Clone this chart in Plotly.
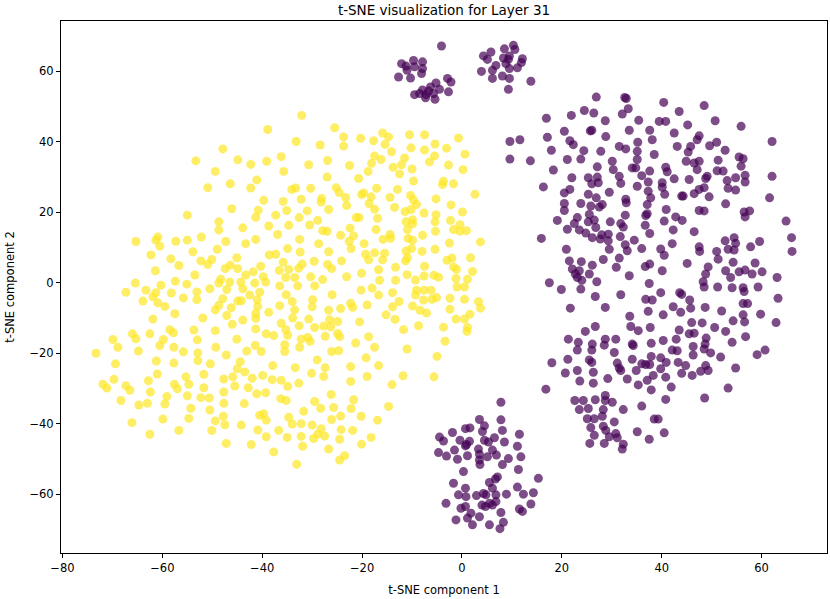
import plotly.graph_objects as go

# t-SNE coordinates, grouped by region
yellow_left_top = [
    (-38.9, 43.5), (-47.9, 38.0), (-53.3, 34.6), (-44.9, 34.9), (-42.3, 33.6), (-39.1, 34.5),
    (-49.4, 31.6), (-41.1, 29.2), (-46.4, 28.1), (-50.9, 27.0), (-42.3, 26.9), (-39.7, 23.4),
    (-46.1, 21.0), (-40.8, 20.6), (-55.0, 19.2), (-41.3, 18.6), (-48.7, 17.3), (-48.7, 15.0),
    (-43.9, 15.6), (-38.7, 16.1), (-65.3, 11.7), (-60.9, 13.0), (-61.3, 12.1), (-60.5, 10.4),
    (-57.3, 11.8), (-55.0, 12.1), (-52.2, 13.0), (-47.3, 11.7), (-43.3, 11.1), (-41.3, 12.3),
    (-49.0, 9.5), (-53.9, 8.8), (-62.3, 7.9), (-58.3, 6.8), (-56.7, 4.9), (-52.3, 6.2),
    (-50.1, 6.6), (-50.9, 5.2), (-45.1, 7.1), (-46.4, 5.0), (-40.3, 4.7), (-38.6, 7.9),
    (-61.4, 3.4), (-47.4, 4.0), (-44.9, 4.0),
]

yellow_left_bottom = [
    (-53.5, 2.2), (-43.3, 2.2), (-41.8, 3.1), (-39.8, 1.7), (-65.4, -0.1), (-67.3, -2.7),
    (-63.9, -5.2), (-63.3, -2.1), (-60.3, -0.7), (-61.3, -2.8), (-61.9, -4.0), (-60.9, -5.7),
    (-59.5, -6.7), (-58.2, -2.9), (-57.4, 0.4), (-55.1, -0.4), (-55.8, -4.3), (-53.1, -2.6),
    (-53.1, -4.8), (-50.5, -1.7), (-48.7, -0.1), (-48.3, 1.0), (-46.5, 0.2), (-47.1, -1.9),
    (-47.9, -4.5), (-48.7, -6.4), (-49.4, -7.7), (-46.2, -7.1), (-44.3, 0.2), (-43.9, -1.7),
    (-42.5, -3.5), (-44.9, -5.2), (-44.2, -5.1), (-41.5, -0.1), (-40.5, -2.7), (-39.3, 0.2),
    (-41.0, -4.8), (-40.9, -6.7), (-41.3, -8.7), (-41.3, -10.1), (-38.7, -8.4), (-47.1, -9.3),
    (-43.9, -10.6), (-46.0, -11.8), (-41.3, -13.1), (-39.2, -14.5), (-45.1, -16.0), (-43.1, -19.4),
    (-41.4, -17.8), (-40.2, -19.5), (-47.2, -20.5), (-49.3, -18.3), (-49.4, -13.6), (-51.9, -10.0),
    (-53.7, -13.4), (-53.0, -16.2), (-52.9, -19.9), (-52.9, -22.1), (-50.4, -23.0), (-51.7, -26.0),
    (-55.8, -19.6), (-57.7, -18.3), (-57.8, -14.2), (-58.5, -13.3), (-59.8, -16.1), (-60.5, -17.8),
    (-57.5, -8.8), (-61.9, -10.3), (-62.5, -14.5), (-66.0, -14.5), (-65.3, -15.9), (-64.8, -19.4),
    (-69.9, -16.1), (-68.9, -18.3), (-73.3, -20.0), (-69.4, -23.0), (-61.2, -22.2), (-57.7, -22.8),
    (-61.0, -25.9), (-62.8, -27.8), (-69.7, -27.4), (-71.9, -28.8), (-71.1, -29.9), (-67.3, -29.2),
    (-66.5, -30.5), (-68.3, -33.4), (-62.4, -31.0), (-64.7, -34.7), (-63.0, -34.2), (-66.1, -39.7),
    (-62.5, -43.0), (-59.9, -38.7), (-56.7, -41.9), (-54.7, -38.5), (-54.3, -35.6), (-55.0, -32.1),
    (-59.1, -32.3), (-59.5, -34.4), (-57.6, -28.8), (-57.0, -30.1), (-55.3, -26.7), (-54.7, -28.8),
    (-51.7, -29.8), (-52.3, -32.6), (-50.6, -32.7), (-50.5, -36.1), (-49.4, -39.2), (-50.1, -41.9),
    (-47.7, -31.0), (-47.7, -34.2), (-47.8, -37.9), (-47.5, -40.3), (-47.2, -45.6), (-47.7, -27.3),
    (-45.5, -29.3), (-45.9, -26.7), (-44.4, -22.4), (-45.0, -24.4), (-43.5, -25.3), (-42.0, -27.1),
    (-42.8, -29.8), (-41.1, -31.5), (-39.9, -26.3), (-39.3, -31.2), (-43.6, -34.3), (-40.5, -37.6),
    (-39.7, -37.2), (-44.2, -40.4), (-40.9, -41.8), (-42.2, -45.9), (-39.2, -43.7), (-39.2, -39.0),
]

yellow_right_top = [
    (-32.1, 47.5), (-25.5, 44.0), (-33.2, 40.1), (-28.4, 39.1), (-23.7, 41.4), (-23.7, 38.8),
    (-20.3, 41.0), (-17.7, 40.3), (-15.9, 42.5), (-14.7, 41.4), (-15.4, 39.3), (-14.1, 37.2),
    (-10.5, 42.0), (-7.5, 42.0), (-10.2, 38.3), (-7.5, 37.7), (-5.4, 39.4), (-5.5, 36.0),
    (-3.1, 38.2), (-0.7, 41.1), (0.6, 36.5), (-36.2, 35.8), (-30.7, 33.5), (-26.9, 34.7),
    (-35.7, 31.6), (-27.0, 30.0), (-22.5, 33.3), (-20.7, 29.6), (-18.8, 31.6), (-18.1, 33.9),
    (-17.5, 36.0), (-16.2, 35.0), (-13.8, 32.8), (-12.5, 30.9), (-12.1, 33.5), (-11.5, 35.4),
    (-10.0, 32.3), (-9.7, 28.9), (-6.5, 34.3), (-2.7, 33.4), (0.2, 32.1), (-3.7, 28.8),
    (-3.9, 27.9), (-1.7, 28.1), (2.6, 25.1), (-2.2, 22.1), (-5.2, 23.8), (0.1, 20.1),
    (-2.3, 17.7), (-0.4, 16.5), (-1.7, 15.1), (-0.4, 14.6), (0.9, 14.8), (3.7, 11.6),
    (1.7, 7.1), (-2.5, 11.3), (-5.4, 9.5), (-3.0, 6.4), (-2.0, 7.0), (-1.7, 4.5),
    (-1.1, 3.8), (2.1, 3.2), (-1.2, 1.2), (1.1, 1.0), (-5.2, 19.3), (-5.4, 17.3),
    (-5.3, 14.6), (-7.6, 19.8), (-7.9, 13.5), (-8.0, 8.9), (-7.5, 4.7), (-5.6, 2.1),
    (-4.7, 1.6), (-7.6, 1.9), (-9.3, 0.8), (-10.3, 24.8), (-9.7, 23.5), (-9.1, 22.2),
    (-11.4, 20.2), (-10.2, 20.8), (-9.9, 17.9), (-11.2, 17.3), (-9.9, 16.7), (-10.9, 15.1),
    (-10.8, 12.6), (-9.9, 12.1), (-10.1, 9.7), (-11.2, 9.0), (-10.9, 7.1), (-11.3, 6.2),
    (-11.0, 2.3), (-12.9, 26.5), (-14.4, 24.2), (-13.5, 21.4), (-17.1, 26.8), (-18.2, 24.4),
    (-19.7, 25.5), (-20.1, 25.0), (-18.6, 22.5), (-17.5, 20.9), (-16.9, 18.3), (-20.6, 18.5),
    (-21.2, 18.5), (-23.1, 21.9), (-23.3, 24.2), (-24.6, 25.6), (-25.2, 27.0), (-26.7, 20.8),
    (-28.1, 23.9), (-28.2, 22.9), (-30.3, 26.8), (-33.3, 26.9), (-34.1, 26.5), (-32.2, 23.7),
    (-35.8, 23.1), (-35.1, 20.5), (-37.3, 19.2), (-31.0, 20.4), (-32.6, 18.5), (-34.7, 16.3),
    (-36.9, 13.7), (-30.5, 16.4), (-28.9, 17.7), (-27.9, 14.8), (-27.0, 14.6), (-32.5, 12.3),
    (-28.7, 11.1), (-34.9, 9.7), (-32.4, 8.7), (-26.7, 8.8), (-29.6, 6.1), (-35.8, 5.8),
    (-32.0, 5.3), (-36.6, 3.5), (-34.7, 3.8), (-32.7, 4.1), (-35.3, 1.5), (-33.5, 1.5),
    (-30.3, 1.7), (-27.9, 0.9), (-26.9, 5.2), (-26.1, 4.0), (-24.1, 6.2), (-23.1, 1.7),
    (-24.3, 13.5), (-22.4, 15.5), (-21.7, 13.3), (-22.6, 11.8), (-22.2, 9.7), (-19.6, 11.1),
    (-17.2, 15.1), (-19.3, 8.1), (-18.7, 6.5), (-17.5, 8.5), (-15.5, 8.4), (-15.9, 6.5),
    (-15.8, 12.3), (-14.4, 13.7), (-14.3, 12.6), (-13.3, 4.4), (-16.7, 3.7), (-16.5, 0.7),
    (-20.1, 2.7), (-13.3, 0.7), (-37.3, 8.1),
]

yellow_right_bottom = [
    (-36.5, -0.9), (-32.9, -0.9), (-29.5, -0.9), (-20.2, -2.1), (-18.0, -1.5), (-16.7, -3.5),
    (-19.0, -6.3), (-22.3, -5.8), (-21.9, -7.0), (-24.3, -7.3), (-26.0, -3.4), (-26.7, -7.8),
    (-29.9, -4.8), (-30.0, -6.8), (-30.7, -10.3), (-35.2, -3.4), (-34.0, -5.3), (-36.5, -6.5),
    (-33.5, -7.7), (-33.9, -10.0), (-36.2, -11.5), (-35.3, -13.3), (-37.7, -15.0), (-34.9, -14.9),
    (-32.6, -12.2), (-29.5, -12.7), (-27.7, -12.3), (-26.5, -10.5), (-26.3, -12.5), (-24.9, -11.0),
    (-24.9, -14.4), (-24.5, -15.3), (-27.4, -15.2), (-30.9, -15.5), (-32.2, -16.0), (-30.4, -16.6),
    (-32.5, -18.3), (-35.5, -17.6), (-35.5, -19.5), (-37.9, -23.5), (-33.4, -24.1), (-30.1, -25.7),
    (-29.0, -21.9), (-27.4, -24.1), (-27.7, -26.6), (-26.1, -19.5), (-24.7, -19.3), (-22.3, -23.8),
    (-21.3, -17.1), (-20.5, -11.1), (-18.7, -15.3), (-17.5, -18.3), (-19.2, -21.3), (-16.7, -23.5),
    (-19.0, -26.6), (-22.3, -28.0), (-38.0, -27.5), (-36.2, -27.7), (-34.9, -29.4), (-32.7, -28.5),
    (-36.3, -32.9), (-35.2, -33.4), (-29.5, -33.7), (-28.3, -35.6), (-31.7, -36.5), (-34.7, -38.2),
    (-34.0, -40.1), (-32.2, -40.0), (-36.7, -41.9), (-35.0, -43.9), (-32.2, -43.6), (-30.0, -40.4),
    (-28.2, -41.4), (-28.9, -43.0), (-29.7, -44.2), (-27.5, -43.5), (-31.9, -46.4), (-37.7, -48.0),
    (-33.1, -51.5), (-26.7, -47.2), (-24.5, -44.4), (-24.2, -41.7), (-24.3, -37.8), (-26.1, -38.8),
    (-26.2, -31.7), (-25.7, -35.4), (-22.2, -35.7), (-21.7, -33.2), (-21.9, -41.9), (-20.2, -37.9),
    (-20.1, -45.8), (-18.2, -43.9), (-16.9, -39.0), (-14.7, -35.1), (-24.5, -50.3), (-23.5, -49.1),
    (-14.0, -28.9), (-11.8, -26.4), (-11.0, -18.8), (-11.7, -13.3), (-8.7, -12.2), (-5.6, -26.7),
    (-5.0, -20.9), (-3.4, -16.6), (-3.7, -12.6), (-15.2, -9.1), (-13.4, -10.4), (-13.9, -6.8),
    (-12.6, -5.3), (-13.9, -2.8), (-9.9, -6.6), (-9.1, -2.1), (-9.3, -3.5), (-7.7, -4.9),
    (-8.4, -7.8), (-7.1, -8.6), (-6.0, -4.7), (-5.1, -4.2), (-6.2, -2.1), (-7.6, -2.1),
    (-2.4, -4.4), (-2.4, -7.5), (0.5, -4.7), (-1.0, -1.2), (0.5, -1.2), (-1.2, -10.3),
    (0.5, -10.3), (1.6, -8.9), (1.1, -12.7), (1.0, -13.8), (3.3, -5.4), (3.7, -7.2),
]

purple_right_top = [
    (26.9, 52.7), (32.6, 52.6), (32.9, 52.3), (16.9, 46.7), (21.9, 47.5), (24.5, 48.9),
    (26.4, 48.2), (32.1, 47.9), (33.3, 49.4), (28.7, 46.0), (35.4, 46.1), (20.5, 43.0),
    (25.7, 43.1), (26.0, 43.3), (28.8, 41.5), (33.5, 43.3), (37.6, 43.3), (17.1, 41.3),
    (11.6, 40.6), (9.6, 40.1), (21.6, 40.3), (22.3, 39.2), (24.4, 37.5), (27.8, 37.3),
    (31.5, 38.7), (32.8, 38.0), (35.2, 39.9), (35.1, 37.3), (38.1, 40.6), (38.5, 36.4),
    (17.9, 37.6), (9.6, 35.1), (13.7, 34.6), (21.1, 35.0), (23.8, 35.1), (30.1, 34.5),
    (35.1, 35.0), (18.3, 32.0), (27.1, 32.9), (30.3, 32.1), (34.1, 32.6), (34.8, 32.6),
    (37.6, 31.7), (36.0, 30.4), (31.5, 30.2), (31.8, 28.2), (35.1, 27.4), (37.3, 28.6),
    (22.0, 29.8), (25.3, 29.8), (27.1, 30.0), (26.0, 28.1), (27.3, 28.4), (16.3, 27.2),
    (21.6, 26.5), (20.5, 25.5), (25.3, 25.1), (29.5, 25.7), (26.9, 24.1), (32.8, 23.7),
    (32.9, 22.7), (37.3, 26.0), (37.8, 24.1), (37.1, 22.2), (20.5, 22.5), (20.5, 20.5),
    (23.8, 22.5), (25.8, 21.8), (27.5, 21.5), (28.1, 22.2), (25.5, 19.4), (32.7, 19.2),
    (36.8, 19.1), (37.1, 19.6), (19.1, 17.7), (23.1, 18.5), (22.5, 16.8), (21.1, 15.2),
    (23.5, 15.0), (25.3, 17.3), (26.5, 17.8), (26.8, 15.7), (29.7, 17.3), (31.8, 16.8),
    (32.3, 15.8), (36.7, 16.3), (37.6, 14.0), (24.8, 14.1), (26.1, 12.8), (28.0, 13.6),
    (29.3, 13.8), (27.7, 12.4), (29.3, 11.9), (31.7, 13.1), (34.5, 12.1), (15.9, 12.6),
    (32.7, 10.8), (33.1, 9.1), (36.0, 9.7), (29.5, 9.5), (20.9, 9.5), (21.5, 6.2),
    (23.9, 6.0), (26.1, 5.0), (28.3, 6.6), (31.5, 7.0), (30.9, 4.4), (36.7, 4.6),
    (37.6, 5.3), (22.1, 3.9), (23.5, 3.4), (25.5, 2.5), (33.5, 2.0), (22.7, 2.5),
    (40.4, 51.2), (48.5, 50.3), (43.5, 48.6), (40.8, 45.8), (39.5, 45.8), (45.2, 44.8),
    (50.7, 46.0), (55.9, 44.4), (42.5, 42.5), (47.5, 41.7), (47.1, 40.6), (62.1, 40.1),
    (43.1, 38.7), (45.8, 38.7), (49.6, 38.9), (51.0, 39.9), (52.7, 37.6), (45.3, 37.1),
    (44.9, 34.5), (46.5, 34.0), (47.5, 34.5), (47.1, 32.1), (51.3, 34.8), (55.5, 35.7),
    (56.3, 35.2), (55.9, 33.1), (51.1, 31.8), (52.3, 31.7), (40.8, 32.8), (41.1, 31.5),
    (42.5, 29.5), (45.5, 29.3), (49.1, 30.2), (48.8, 29.6), (53.1, 29.0), (54.8, 29.8),
    (56.7, 30.5), (56.7, 28.6), (62.1, 30.2), (40.1, 28.4), (40.1, 27.1), (47.5, 26.5),
    (48.5, 27.0), (53.3, 26.8), (54.8, 26.3), (40.6, 25.1), (44.0, 24.6), (44.3, 24.6),
    (46.5, 25.3), (49.5, 24.4), (61.6, 24.1), (52.8, 22.4), (40.9, 20.8), (47.5, 20.5),
    (48.5, 20.4), (56.5, 20.1), (57.6, 20.4), (56.7, 18.7), (42.8, 18.7), (44.1, 17.7),
    (40.5, 17.5), (64.9, 17.5), (42.3, 15.0), (46.5, 14.5), (66.0, 12.8), (66.1, 8.9),
    (42.1, 11.1), (39.8, 9.6), (40.5, 7.8), (47.5, 10.2), (47.6, 8.9), (51.0, 8.9),
    (52.7, 11.9), (54.5, 12.8), (54.8, 11.2), (53.3, 9.5), (54.5, 9.3), (57.8, 10.2),
    (59.6, 11.7), (51.3, 6.7), (54.3, 5.8), (58.7, 5.6), (45.1, 5.5), (49.3, 4.5),
    (40.1, 3.4), (48.8, 2.5), (52.8, 3.4), (55.5, 3.1), (56.7, 3.6), (58.1, 2.5),
    (60.1, 3.1), (63.1, 1.5),
]

purple_right_bottom = [
    (17.5, 0.0), (19.9, -1.9), (23.1, 1.5), (24.0, 0.7), (23.8, -1.8), (27.0, 0.3),
    (37.5, -0.2), (26.7, -3.9), (31.8, -3.4), (36.8, -4.7), (38.1, -4.9), (21.7, -7.2),
    (28.7, -7.0), (37.3, -8.1), (33.6, -9.5), (24.7, -13.8), (26.7, -12.4), (33.8, -12.4),
    (35.3, -13.6), (37.7, -12.7), (21.3, -16.0), (23.3, -16.9), (23.1, -19.1), (26.1, -17.4),
    (26.0, -19.1), (28.5, -17.7), (28.7, -16.0), (30.8, -16.0), (30.5, -19.8), (34.1, -17.4),
    (34.3, -17.8), (37.9, -17.2), (18.0, -22.7), (21.2, -21.7), (25.5, -21.9), (26.0, -22.6),
    (20.7, -25.6), (23.1, -24.9), (26.3, -25.4), (23.6, -27.9), (26.3, -28.5), (29.2, -27.2),
    (31.1, -22.8), (31.8, -24.9), (31.5, -24.2), (34.1, -21.7), (34.9, -24.9), (36.0, -23.0),
    (36.8, -23.2), (37.6, -23.2), (37.9, -20.9), (33.1, -27.3), (35.3, -29.0), (37.1, -27.7),
    (37.9, -30.4), (38.3, -26.3), (16.8, -30.2), (22.6, -33.4), (24.3, -33.4), (26.7, -33.2),
    (28.7, -32.0), (28.7, -33.4), (30.1, -33.9), (23.5, -36.0), (25.3, -35.7), (28.3, -36.0),
    (32.3, -36.0), (36.0, -35.0), (25.1, -38.6), (26.5, -38.6), (28.1, -37.9), (30.5, -39.5),
    (25.8, -41.1), (28.3, -40.7), (28.8, -41.9), (26.5, -43.3), (30.8, -42.8), (31.1, -44.0),
    (29.5, -43.7), (35.1, -42.3), (37.5, -44.4), (38.5, -38.7), (25.6, -45.6), (28.5, -45.6),
    (32.3, -45.8), (32.1, -47.2),
    (53.8, 1.5), (48.3, 0.3), (48.5, -1.2), (51.2, -1.2), (54.1, -1.4), (56.3, -1.4),
    (56.5, -2.5), (59.3, -1.2), (63.3, -4.4), (39.8, -2.8), (43.6, -2.8), (44.0, -3.3),
    (45.6, -4.9), (42.3, -6.8), (45.8, -7.2), (48.7, -7.0), (52.0, -8.0), (56.3, -5.9),
    (57.2, -5.9), (40.3, -9.1), (43.8, -8.4), (56.3, -9.1), (56.6, -11.1), (59.8, -8.9),
    (62.9, -11.3), (46.0, -11.3), (48.1, -11.4), (50.6, -12.7), (54.3, -10.8), (52.8, -13.8),
    (43.5, -13.4), (45.5, -14.5), (46.5, -14.3), (42.9, -16.0), (40.3, -16.4), (48.9, -15.7),
    (48.7, -17.4), (56.8, -15.3), (54.1, -16.9), (46.3, -18.1), (42.1, -19.1), (43.1, -19.3),
    (48.5, -18.8), (49.8, -19.9), (46.3, -20.5), (51.8, -21.1), (59.1, -20.4), (60.7, -19.1),
    (39.8, -21.3), (40.9, -22.6), (43.3, -22.6), (44.8, -23.5), (48.8, -23.5), (49.3, -24.9),
    (47.8, -25.1), (39.8, -24.4), (44.0, -25.7), (46.1, -26.3), (40.8, -26.8), (54.8, -24.2),
    (41.9, -29.6), (53.3, -29.9), (40.8, -33.1), (48.6, -32.7), (39.3, -38.7), (40.5, -42.6),
]

purple_top = [
    (-4.1, 67.2), (-12.1, 62.2), (-11.2, 61.5), (-9.7, 63.1), (-7.9, 62.7), (-9.5, 61.3),
    (-7.9, 60.8), (-11.0, 60.3), (-12.7, 58.4), (-10.3, 58.1), (-8.1, 59.4), (-5.2, 56.7),
    (-2.9, 58.0), (-2.2, 57.0), (-6.3, 55.6), (-4.5, 54.9), (-2.7, 54.2), (-7.9, 54.7),
    (-8.5, 53.7), (-9.5, 53.4), (-7.2, 53.4), (-7.3, 52.5), (-5.7, 53.7), (-5.4, 52.1),
    (-6.7, 54.4),
    (4.3, 64.4), (5.8, 65.5), (8.5, 66.4), (10.3, 67.4), (10.6, 66.2), (5.1, 63.4),
    (8.3, 63.8), (9.5, 64.4), (9.3, 63.4), (12.1, 63.6), (11.9, 62.5), (6.8, 61.7),
    (8.8, 62.2), (9.5, 60.8), (11.1, 61.0), (3.9, 60.0), (6.1, 60.3), (6.1, 58.0),
    (8.1, 58.7), (9.5, 58.0), (13.8, 57.2), (9.3, 54.9),
]

purple_bottom = [
    (7.8, -33.9), (3.5, -38.8), (7.8, -38.9), (4.5, -40.6), (0.7, -41.4), (1.6, -41.2),
    (4.1, -42.2), (8.1, -41.9), (-4.5, -43.8), (-1.9, -42.5), (-3.7, -44.9), (-0.4, -44.7),
    (1.5, -45.0), (4.5, -44.7), (6.5, -44.0), (8.5, -45.2), (11.5, -43.0), (0.9, -45.9),
    (0.7, -46.3), (5.3, -45.2), (-4.7, -48.2), (-3.1, -49.2), (-1.5, -47.5), (-0.9, -50.1),
    (1.1, -49.1), (3.3, -47.2), (3.5, -48.7), (3.5, -50.3), (3.6, -51.6), (5.1, -49.4),
    (6.1, -47.5), (6.9, -48.9), (8.1, -51.6), (9.3, -49.9), (11.1, -46.4), (11.8, -49.4),
    (11.3, -53.0), (0.3, -53.6), (-1.7, -56.9), (7.1, -55.1), (6.7, -55.7), (5.5, -56.7),
    (6.1, -58.3), (0.7, -58.3), (-0.7, -60.2), (0.8, -60.7), (2.9, -60.4), (4.3, -59.8),
    (4.8, -60.2), (6.8, -60.2), (8.9, -60.0), (11.1, -58.0), (12.3, -60.0), (14.3, -59.6),
    (15.3, -55.5), (-3.2, -62.6), (-0.2, -64.0), (0.7, -63.5), (4.0, -63.1), (4.7, -63.5),
    (6.1, -63.1), (6.8, -62.1), (5.5, -62.6), (13.8, -62.8), (11.5, -64.2), (12.1, -64.9),
    (7.8, -65.2), (1.8, -65.4), (3.5, -66.4), (1.1, -66.8), (-1.2, -67.3), (2.1, -68.7),
    (5.5, -68.7), (8.3, -68.0), (7.6, -69.8),
]

x_ticks = [-80, -60, -40, -20, 0, 20, 40, 60]
y_ticks = [-60, -40, -20, 0, 20, 40, 60]

yellow = yellow_left_top + yellow_left_bottom + yellow_right_top + yellow_right_bottom
purple = purple_right_top + purple_right_bottom + purple_top + purple_bottom

font = "DejaVu Sans, Arial, sans-serif"

fig = go.Figure()
for pts, color in [(purple, "#440154"), (yellow, "#fde725")]:
    xs, ys = zip(*pts)
    fig.add_trace(go.Scatter(
        x=xs, y=ys, mode="markers",
        marker=dict(color=color, size=9, opacity=0.7, line=dict(width=0)),
        showlegend=False,
    ))

axis_style = dict(
    showline=True, mirror=True, linecolor="black", linewidth=1,
    ticks="outside", ticklen=4, tickwidth=1, tickcolor="black",
    showgrid=False, zeroline=False,
    tickfont=dict(family=font, size=11.5, color="black"),
)

fig.update_layout(
    width=830, height=599,
    margin=dict(l=61, r=3, t=21, b=46),
    paper_bgcolor="white", plot_bgcolor="white",
    font=dict(family=font, color="black"),
    title=dict(text="t-SNE visualization for Layer 31", x=0.5, xref="paper",
               y=1 - 10 / 599, yref="container", yanchor="middle", xanchor="center",
               font=dict(family=font, size=13.5, color="black")),
    xaxis=dict(range=[-80.3, 73.1], tickvals=x_ticks,
               title=dict(text="t-SNE component 1", standoff=12,
                          font=dict(family=font, size=11.5, color="black")),
               **axis_style),
    yaxis=dict(range=[-76.7, 74.3], tickvals=y_ticks,
               title=dict(text="t-SNE component 2", standoff=12,
                          font=dict(family=font, size=11.5, color="black")),
               **axis_style),
)

# the page body has a default 8px margin; drop it so the figure fills the window
fig.write_html("out.html",
               config={"displayModeBar": False},
               post_script="document.body.style.margin='0';document.body.style.overflow='hidden';")
